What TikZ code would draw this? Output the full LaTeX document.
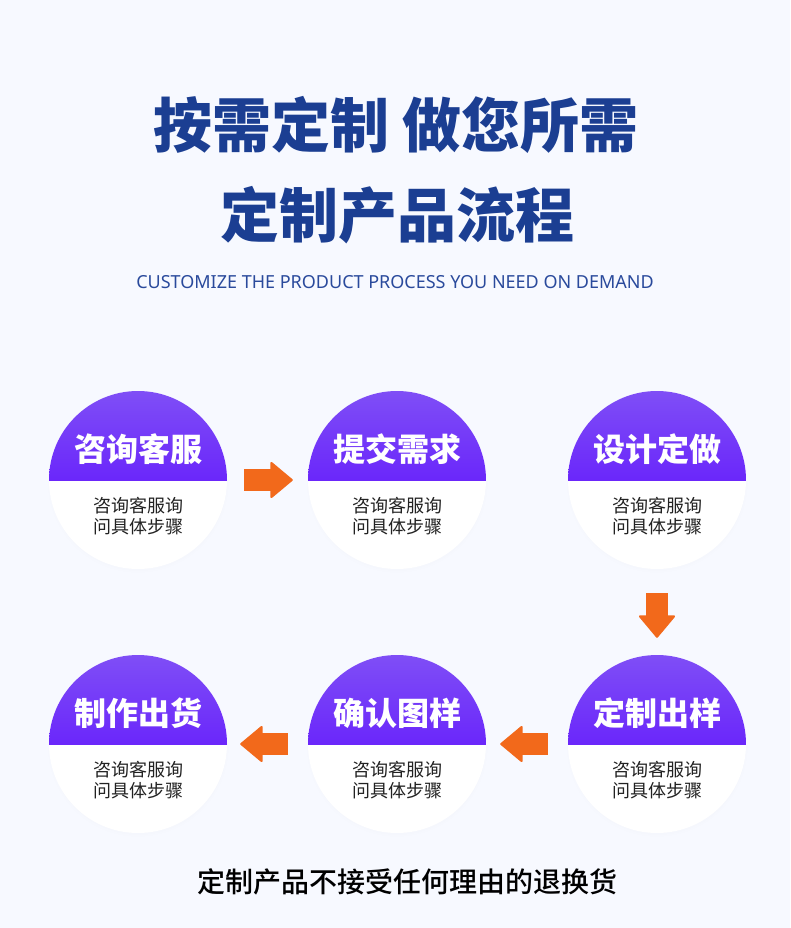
\documentclass[tikz,border=0pt]{standalone}
\usepackage{fontspec}
\setmainfont{Noto Sans CJK SC}
\newfontfamily\latinfont{Noto Sans}
\IfFontExistsTF{Noto Sans CJK SC Black}
    {\newfontfamily\heavyfont{Noto Sans CJK SC Black}}
    {\newcommand\heavyfont{\bfseries}}
\IfFontExistsTF{Noto Sans CJK SC Medium}
    {\newfontfamily\mediumfont{Noto Sans CJK SC Medium}}
    {\newcommand\mediumfont{}}
\usepackage{tikz}
\usetikzlibrary{
  arrows.meta,
  positioning,
  calc,
  shadows
}
\definecolor{pagebg}{HTML}{F7F9FF}
\definecolor{titleblue}{HTML}{1B3E92}
\definecolor{subblue}{HTML}{2A4A9C}
\definecolor{violettop}{HTML}{7F4EF6}
\definecolor{violetbot}{HTML}{5600FF}
\definecolor{arroworange}{HTML}{F2691B}
\definecolor{bodygray}{HTML}{222222}

\begin{document}
\begin{tikzpicture}[
        x=1pt, y=-1pt,
        stepcircle/.style={circle, minimum size=178pt, inner sep=0pt, fill=white,
            circular drop shadow={shadow xshift=0pt, shadow yshift=-2pt, shadow scale=1.02, opacity=0.05},
            path picture={
                \fill[top color=violettop, bottom color=violetbot]
                    (path picture bounding box.north west) rectangle (path picture bounding box.east);
            }},
        steptitle/.style={font=\bfseries\fontsize{32}{36}\selectfont, text=white},
        steptext/.style={font=\fontsize{18}{21}\selectfont, text=bodygray, align=center},
        flowarrow/.style={draw=arroworange, line width=22pt,
            -{Triangle[length=23pt, width=38pt, line width=2pt, round]}}
    ]
        % Hintergrund
        \fill[pagebg] (0,0) rectangle (790,928);
        \useasboundingbox (0,0) rectangle (790,928);

        % Ueberschriften
        \node[font=\heavyfont\fontsize{59}{64}\selectfont, text=titleblue] (title) at (396,125) {按需定制 做您所需};
        \node[font=\heavyfont\fontsize{59}{64}\selectfont, text=titleblue] (subtitle) at (397,215) {定制产品流程};
        \node[font=\latinfont\fontsize{18}{22}\selectfont, text=subblue] (english) at (395,282)
            {CUSTOMIZE THE PRODUCT PROCESS YOU NEED ON DEMAND};

        % Schritte
        \foreach \n/\x/\y/\name in {1/138/480/咨询客服, 2/397/480/提交需求, 3/657/480/设计定做,
                                    4/138/744/制作出货, 5/397/744/确认图样, 6/657/744/定制出样} {
            \node[stepcircle] (s\n) at (\x,\y) {};
            \node[steptitle] (t\n) at ($(s\n)+(0,-31)$) {\name};
            \node[steptext] (d\n) at ($(s\n)+(0,36)$) {咨询客服询\\问具体步骤};
        }

        % Pfeile
        \draw[flowarrow] ([xshift=17pt]s1.east) -- ([xshift=-15pt]s2.west);
        \draw[flowarrow] ([yshift=-24pt]s3.south) -- ([yshift=17pt]s6.north);
        \draw[flowarrow] ([xshift=-20pt]s6.west) -- ([xshift=14pt]s5.east);
        \draw[flowarrow] ([xshift=-20pt]s5.west) -- ([xshift=13pt]s4.east);

        % Hinweis
        \node[font=\mediumfont\fontsize{28}{32}\selectfont, text=black] (note) at (407,882) {定制产品不接受任何理由的退换货};
    \end{tikzpicture}
\end{document}
